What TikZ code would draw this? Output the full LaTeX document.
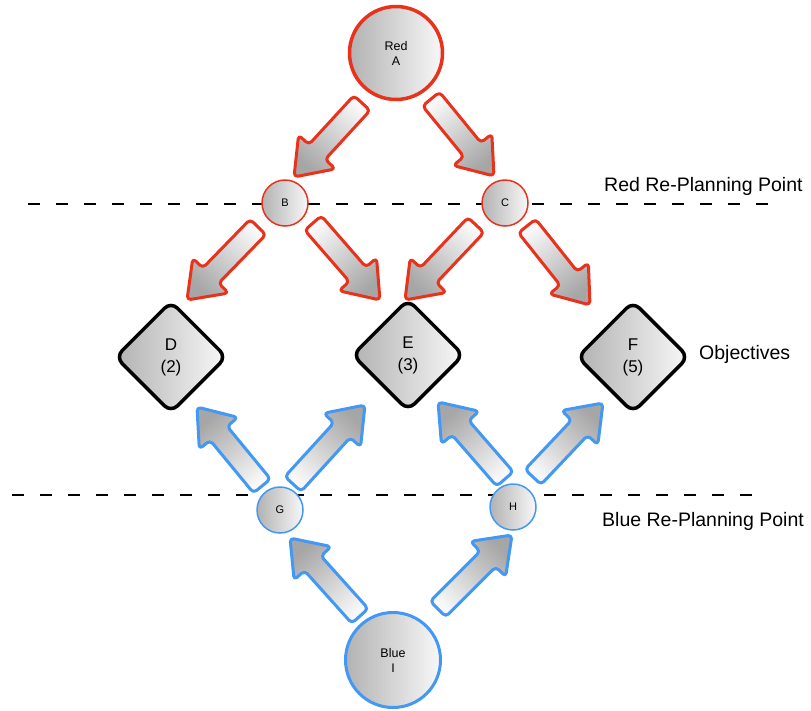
\documentclass[tikz,border=0pt]{standalone}
\usepackage{fontspec}
\setmainfont{Liberation Sans}
\usetikzlibrary{shapes.geometric,calc}

\definecolor{redline}{HTML}{E8321C}
\definecolor{blueline}{HTML}{4298F2}
\definecolor{fillgraydark}{HTML}{A6A6A6}
\definecolor{fillgraylight}{HTML}{F8F8F8}
\definecolor{nodegraydark}{HTML}{B2B2B2}

\newcommand\arrshaft{11pt}
\newcommand\arrhead{25pt}
\newcommand\arrheadlen{34pt}

% block arrow from tail coordinate #1 to tip coordinate #2, outlined in colour #3
\newcommand\blockarrow[3]{%
  \pgfmathanglebetweenpoints{\pgfpointanchor{#1}{center}}{\pgfpointanchor{#2}{center}}%
  \pgfmathsetmacro\shadang{\pgfmathresult-90}%
  \coordinate (hb) at ($(#2)!\arrheadlen!(#1)$);
  \draw[blockarr, draw=#3, shading angle=\shadang]
    ($(#1)!\arrshaft!90:(#2)$) -- ($(hb)!\arrshaft!90:(#2)$)
    -- ($(hb)!\arrhead!90:(#2)$) -- (#2) -- ($(hb)!\arrhead!-90:(#2)$)
    -- ($(hb)!\arrshaft!-90:(#2)$) -- ($(#1)!\arrshaft!-90:(#2)$) -- cycle;
}

\tikzset{
  blockarr/.style={line width=3pt, rounded corners=4pt, line join=round,
    top color=fillgraydark, bottom color=fillgraylight},
  graynode/.style={inner sep=0pt, align=center, left color=nodegraydark,
    right color=fillgraylight},
  bigcircle/.style={graynode, circle, minimum size=93pt, line width=3.5pt,
    font=\fontsize{12.5}{15}\selectfont},
  smallcircle/.style={graynode, circle, minimum size=46pt, line width=1.5pt,
    font=\fontsize{11}{13}\selectfont},
  objective/.style={graynode, diamond, aspect=1, minimum width=112pt,
    minimum height=112pt, rounded corners=9pt, line width=3.5pt, draw=black,
    font=\fontsize{17}{22}\selectfont},
  replan/.style={line width=2pt, dash pattern=on 12pt off 16pt},
  sidelabel/.style={anchor=west, inner sep=0pt, font=\fontsize{19.5}{23}\selectfont}
}

\begin{document}
\begin{tikzpicture}[x=1pt,y=-1pt]
\useasboundingbox (0,0) rectangle (811,710);

% re-planning lines
\coordinate (redL) at (28,204);
\coordinate (redR) at (770,204);
\coordinate (blueL) at (12,495);
\coordinate (blueR) at (756,495);
\draw[replan] (redL) -- (redR);
\draw[replan] (blueL) -- (blueR);

% arrow tails and tips
\coordinate (ab-s) at (362,103); \coordinate (ab-e) at (294,177);
\coordinate (ac-s) at (431,99);  \coordinate (ac-e) at (494,176);
\coordinate (bd-s) at (258,227); \coordinate (bd-e) at (187,300);
\coordinate (be-s) at (313,223); \coordinate (be-e) at (380,300);
\coordinate (ce-s) at (476,225); \coordinate (ce-e) at (405,300);
\coordinate (cf-s) at (527,226); \coordinate (cf-e) at (590,305);
\coordinate (gd-s) at (262,486); \coordinate (gd-e) at (197,407);
\coordinate (ge-s) at (293,484); \coordinate (ge-e) at (365,405);
\coordinate (he-s) at (505,479); \coordinate (he-e) at (438,402);
\coordinate (hf-s) at (533,477); \coordinate (hf-e) at (603,403);
\coordinate (ig-s) at (360,616); \coordinate (ig-e) at (290,538);
\coordinate (ih-s) at (438,609); \coordinate (ih-e) at (512,535);

\blockarrow{ab-s}{ab-e}{redline}
\blockarrow{ac-s}{ac-e}{redline}
\blockarrow{bd-s}{bd-e}{redline}
\blockarrow{be-s}{be-e}{redline}
\blockarrow{ce-s}{ce-e}{redline}
\blockarrow{cf-s}{cf-e}{redline}
\blockarrow{gd-s}{gd-e}{blueline}
\blockarrow{ge-s}{ge-e}{blueline}
\blockarrow{he-s}{he-e}{blueline}
\blockarrow{hf-s}{hf-e}{blueline}
\blockarrow{ig-s}{ig-e}{blueline}
\blockarrow{ih-s}{ih-e}{blueline}

% nodes
\node[bigcircle, draw=redline] (A) at (396,53) {Red\\A};
\node[smallcircle, draw=redline] (B) at (285,203) {B};
\node[smallcircle, draw=redline] (C) at (505,203) {C};
\node[objective] (D) at (171,357) {D\\(2)};
\node[objective] (E) at (408,355) {E\\(3)};
\node[objective] (F) at (633,357) {F\\(5)};
\node[smallcircle, draw=blueline] (G) at (280,510) {G};
\node[smallcircle, draw=blueline] (H) at (513,507) {H};
\node[bigcircle, draw=blueline, line width=3pt, minimum size=95pt] (I) at (393,660) {Blue\\I};

% labels
\node[sidelabel] (redlbl) at (604,186) {Red Re-Planning Point};
\node[sidelabel] (objlbl) at (699,354) {Objectives};
\node[sidelabel] (bluelbl) at (602,521) {Blue Re-Planning Point};
\end{tikzpicture}
\end{document}
